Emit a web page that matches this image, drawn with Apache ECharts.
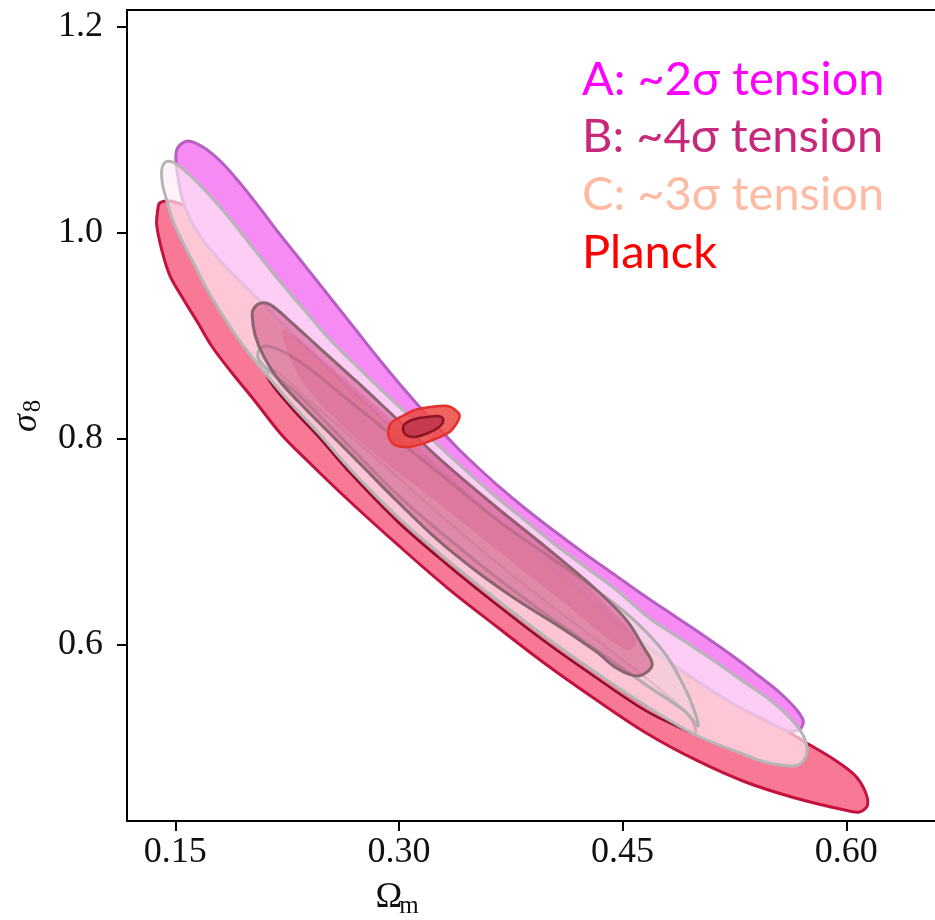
<!DOCTYPE html>
<html>
<head>
<meta charset="utf-8">
<script src="https://cdn.jsdelivr.net/npm/echarts@6/dist/echarts.min.js"></script>
<style>
  html, body { margin: 0; padding: 0; background: #ffffff; }
  #chart { width: 935px; height: 920px; }
</style>
</head>
<body>
<div id="chart"></div>
<script>
// Axis ticks
const xTicks = [0.15, 0.30, 0.45, 0.60];
const yTicks = [0.6, 0.8, 1.0, 1.2];

// Contour outlines in (Omega_m, sigma_8)
const redOuter = [[0.1395,1.0288],[0.1462,1.0308],[0.1595,1.0240],[0.1708,1.0123],[0.1815,0.9958],[0.1928,0.9764],[0.2041,0.9609],[0.2194,0.9376],[0.2394,0.9084],[0.2660,0.8686],[0.2993,0.8230],[0.3326,0.7745],[0.3659,0.7259],[0.3992,0.6822],[0.4325,0.6434],[0.4658,0.5997],[0.4991,0.5657],[0.5324,0.5366],[0.5590,0.5172],[0.5723,0.5055],[0.5923,0.4881],[0.6056,0.4735],[0.6123,0.4589],[0.6143,0.4444],[0.6089,0.4376],[0.5989,0.4395],[0.5657,0.4512],[0.5324,0.4667],[0.4991,0.4881],[0.4658,0.5143],[0.4325,0.5463],[0.3992,0.5803],[0.3659,0.6172],[0.3326,0.6550],[0.2993,0.6968],[0.2660,0.7405],[0.2394,0.7774],[0.2214,0.8036],[0.2028,0.8376],[0.1875,0.8648],[0.1748,0.8890],[0.1648,0.9133],[0.1549,0.9366],[0.1462,0.9589],[0.1409,0.9832],[0.1375,1.0075],[0.1382,1.0220]];

const redInner = [[0.2115,0.8608],[0.2261,0.8327],[0.2461,0.8017],[0.2660,0.7686],[0.2993,0.7191],[0.3326,0.6774],[0.3659,0.6385],[0.3992,0.6016],[0.4325,0.5677],[0.4658,0.5356],[0.4891,0.5191],[0.4991,0.5143],[0.4924,0.5346],[0.4458,0.5900],[0.3926,0.6482],[0.3393,0.7113],[0.2860,0.7793],[0.2394,0.8376],[0.2161,0.8667]];

const contourA = [[0.1509,1.0803],[0.1582,1.0890],[0.1695,1.0822],[0.1808,1.0686],[0.1928,1.0492],[0.2061,1.0250],[0.2194,0.9997],[0.2328,0.9754],[0.2461,0.9512],[0.2594,0.9269],[0.2727,0.9026],[0.2860,0.8783],[0.2993,0.8550],[0.3127,0.8327],[0.3260,0.8114],[0.3393,0.7910],[0.3526,0.7725],[0.3659,0.7550],[0.3859,0.7308],[0.4059,0.7084],[0.4258,0.6871],[0.4458,0.6667],[0.4658,0.6463],[0.4858,0.6269],[0.5057,0.6075],[0.5257,0.5871],[0.5423,0.5686],[0.5557,0.5531],[0.5657,0.5385],[0.5710,0.5269],[0.5697,0.5191],[0.5657,0.5162],[0.5590,0.5172],[0.5457,0.5269],[0.5257,0.5415],[0.4991,0.5657],[0.4658,0.5997],[0.4325,0.6385],[0.3992,0.6803],[0.3659,0.7211],[0.3393,0.7550],[0.3127,0.7890],[0.2860,0.8230],[0.2594,0.8589],[0.2328,0.8958],[0.2128,0.9250],[0.1961,0.9492],[0.1808,0.9716],[0.1695,0.9910],[0.1609,1.0104],[0.1549,1.0317],[0.1515,1.0560]];

const contourCOuter = [[0.1409,1.0609],[0.1435,1.0686],[0.1495,1.0677],[0.1595,1.0560],[0.1728,1.0366],[0.1862,1.0143],[0.1995,0.9900],[0.2128,0.9657],[0.2261,0.9424],[0.2394,0.9201],[0.2527,0.8977],[0.2660,0.8783],[0.2860,0.8502],[0.3060,0.8230],[0.3260,0.7939],[0.3459,0.7677],[0.3659,0.7424],[0.3859,0.7191],[0.4059,0.6958],[0.4258,0.6745],[0.4458,0.6531],[0.4678,0.6259],[0.4924,0.6026],[0.5124,0.5832],[0.5324,0.5628],[0.5490,0.5463],[0.5623,0.5288],[0.5710,0.5123],[0.5737,0.4958],[0.5697,0.4851],[0.5623,0.4822],[0.5457,0.4861],[0.5324,0.4929],[0.4991,0.5123],[0.4658,0.5405],[0.4325,0.5725],[0.3992,0.6065],[0.3659,0.6434],[0.3326,0.6822],[0.2993,0.7240],[0.2660,0.7725],[0.2461,0.8055],[0.2261,0.8366],[0.2075,0.8686],[0.1928,0.8958],[0.1808,0.9220],[0.1715,0.9444],[0.1629,0.9686],[0.1549,0.9910],[0.1482,1.0123],[0.1442,1.0317],[0.1415,1.0463]];

const contourCInner = [[0.2061,0.8861],[0.2108,0.8900],[0.2228,0.8842],[0.2394,0.8686],[0.2660,0.8376],[0.2993,0.7987],[0.3326,0.7599],[0.3659,0.7211],[0.3992,0.6871],[0.4325,0.6531],[0.4591,0.6220],[0.4791,0.5900],[0.4924,0.5560],[0.4991,0.5317],[0.5004,0.5211],[0.4924,0.5346],[0.4658,0.5609],[0.4325,0.5948],[0.3992,0.6288],[0.3659,0.6647],[0.3326,0.7036],[0.2993,0.7453],[0.2660,0.7939],[0.2328,0.8424],[0.2161,0.8618],[0.2061,0.8764]];

const contourBOuter = [[0.2028,0.9269],[0.2075,0.9317],[0.2141,0.9297],[0.2261,0.9152],[0.2461,0.8890],[0.2727,0.8541],[0.2993,0.8182],[0.3326,0.7735],[0.3659,0.7327],[0.3992,0.6939],[0.4325,0.6531],[0.4525,0.6240],[0.4644,0.5968],[0.4698,0.5822],[0.4671,0.5744],[0.4591,0.5696],[0.4458,0.5773],[0.4325,0.5930],[0.4059,0.6191],[0.3792,0.6434],[0.3526,0.6706],[0.3260,0.7017],[0.2993,0.7385],[0.2727,0.7774],[0.2527,0.8065],[0.2328,0.8356],[0.2194,0.8570],[0.2095,0.8793],[0.2035,0.9007],[0.2015,0.9201]];

const contourBInner = [[0.2228,0.9055],[0.2527,0.8716],[0.2993,0.8133],[0.3459,0.7580],[0.3926,0.7017],[0.4325,0.6482],[0.4591,0.6046],[0.4525,0.5948],[0.4125,0.6385],[0.3659,0.6919],[0.3193,0.7453],[0.2727,0.7987],[0.2394,0.8473],[0.2261,0.8813]];

const planckOuter = [[0.2927,0.8055],[0.2947,0.8152],[0.3013,0.8211],[0.3107,0.8279],[0.3213,0.8308],[0.3326,0.8317],[0.3393,0.8259],[0.3406,0.8211],[0.3380,0.8133],[0.3340,0.8065],[0.3260,0.8007],[0.3173,0.7958],[0.3060,0.7919],[0.2973,0.7939],[0.2940,0.7988]];

const planckInner = [[0.3027,0.8104],[0.3047,0.8152],[0.3107,0.8191],[0.3195,0.8211],[0.3260,0.8220],[0.3293,0.8201],[0.3293,0.8152],[0.3260,0.8104],[0.3195,0.8055],[0.3107,0.8017],[0.3047,0.8036]];

// Legend entries
const legendLabels = ['A: ~2σ tension', 'B: ~4σ tension', 'C: ~3σ tension', 'Planck'];
const legendColors = ['#ff00ff', '#c8287b', '#ffbaa3', '#ff0000'];

// Drawing order and styling of the filled contours
const layers = [
  { name: 'Red 95', pts: redOuter,       style: { fill: '#f77995', stroke: '#c3123f', lineWidth: 3 } },
  { name: 'Red 68', pts: redInner,       style: { fill: '#f27590', stroke: '#8c0c2c', lineWidth: 2.5 } },
  { name: 'A 95',   pts: contourA,       style: { fill: '#f78bf6', stroke: '#b55fc0', lineWidth: 3 } },
  { name: 'C 95',   pts: contourCOuter,  style: { fill: 'rgba(255,236,244,0.68)', stroke: '#b6b6b6', lineWidth: 3 } },
  { name: 'C 68',   pts: contourCInner,  style: { fill: 'rgba(238,210,218,0.5)', stroke: '#b4adaf', lineWidth: 3 } },
  { name: 'B 95',   pts: contourBOuter,  style: { fill: 'rgba(200,62,116,0.47)', stroke: '#8a6470', lineWidth: 3 } },
  { name: 'B 68',   pts: contourBInner,  style: { fill: 'rgba(210,60,115,0.2)', stroke: 'rgba(0,0,0,0)', lineWidth: 0 } },
  { name: 'Planck 95', pts: planckOuter, style: { fill: 'rgba(238,72,68,0.86)', stroke: '#e1322e', lineWidth: 2.5 } },
  { name: 'Planck 68', pts: planckInner, style: { fill: 'rgba(192,56,78,0.9)', stroke: '#8e1525', lineWidth: 2.5 } }
];

function contourSeries(layer) {
  return {
    type: 'custom',
    name: layer.name,
    data: layer.pts,
    encode: { x: 0, y: 1 },
    silent: true,
    animation: false,
    renderItem: function (params, api) {
      if (params.dataIndex !== 0) return null;
      const points = layer.pts.map(function (p) { return api.coord(p); });
      return {
        type: 'polygon',
        shape: { points: points, smooth: 0.35 },
        style: Object.assign({}, layer.style)
      };
    }
  };
}

const serif = 'Liberation Serif';
const chart = echarts.init(document.getElementById('chart'), null, { renderer: 'canvas' });

const legendGraphics = legendLabels.map(function (label, i) {
  return {
    type: 'text',
    left: 582,
    top: 56 + i * 57.7,
    style: {
      text: label,
      fill: legendColors[i],
      font: '47px Lato',
      textVerticalAlign: 'top'
    },
    silent: true
  };
});

const axisLineStyle = { color: '#000', width: 2 };

chart.setOption({
  animation: false,
  grid: { left: 127, top: 10, width: 814, height: 811 },
  xAxis: [{
    type: 'value',
    min: 0.11758, max: 0.65952,
    axisLine: { show: true, onZero: false, lineStyle: axisLineStyle },
    axisTick: { show: true, inside: false, length: 10, customValues: xTicks, lineStyle: axisLineStyle },
    axisLabel: {
      show: true, customValues: xTicks, margin: 14,
      formatter: function (v) { return v.toFixed(2); },
      color: '#111', fontFamily: serif, fontSize: 36
    },
    splitLine: { show: false }
  }, {
    type: 'value',
    position: 'top',
    min: 0.11758, max: 0.65952,
    axisLine: { show: true, onZero: false, lineStyle: axisLineStyle },
    axisTick: { show: false },
    axisLabel: { show: false },
    splitLine: { show: false }
  }],
  yAxis: {
    type: 'value',
    min: 0.42883, max: 1.21621,
    axisLine: { show: true, onZero: false, lineStyle: axisLineStyle },
    axisTick: { show: true, inside: false, length: 10, customValues: yTicks, lineStyle: axisLineStyle },
    axisLabel: {
      show: true, customValues: yTicks, margin: 24,
      formatter: function (v) { return v.toFixed(1); },
      color: '#111', fontFamily: serif, fontSize: 36
    },
    splitLine: { show: false }
  },
  series: layers.map(contourSeries),
  graphic: [
    {
      type: 'group',
      x: 27, y: 423,
      rotation: Math.PI / 2,
      silent: true,
      children: [
        { type: 'text', x: 0, y: 0, style: { text: 'σ', font: 'italic 36px "Liberation Serif"', fill: '#111', textAlign: 'center', textVerticalAlign: 'middle' } },
        { type: 'text', x: 17, y: 6, style: { text: '8', font: '25px "Liberation Serif"', fill: '#111', textAlign: 'center', textVerticalAlign: 'middle' } }
      ]
    },
    { type: 'text', x: 389, y: 898, silent: true, style: { text: 'Ω', font: '36px "Liberation Serif"', fill: '#111', textAlign: 'center', textVerticalAlign: 'middle' } },
    { type: 'text', x: 409, y: 906, silent: true, style: { text: 'm', font: '25px "Liberation Serif"', fill: '#111', textAlign: 'center', textVerticalAlign: 'middle' } }
  ].concat(legendGraphics)
});
</script>
</body>
</html>
